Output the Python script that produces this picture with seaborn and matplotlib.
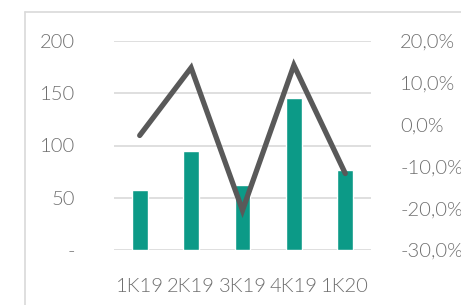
import matplotlib
matplotlib.use("Agg")
import matplotlib.pyplot as plt
from matplotlib.lines import Line2D
from matplotlib.ticker import FuncFormatter
import seaborn as sns
import pandas as pd

categories = ["1K19", "2K19", "3K19", "4K19", "1K20"]
values = [57, 95, 62, 145, 77]
growth = [-2.6, 13.6, -20.5, 14.2, -11.7]
left_ticks = [0, 50, 100, 150, 200]
right_ticks = [-30, -20, -10, 0, 10, 20]

sns.set_theme(style="white")
plt.rcParams["font.family"] = ["Lato", "DejaVu Sans"]
plt.rcParams["font.weight"] = 300

df = pd.DataFrame({"cat": categories, "val": values, "g": growth})

fig = plt.figure(figsize=(4.61, 3.05), dpi=100)
ax = fig.add_axes([114/461, 1-250/305, (371-114)/461, (250-41)/305])

sns.barplot(data=df, x="cat", y="val", color="#0C9A87", saturation=1, width=0.31, ax=ax, zorder=2)
ax.set_ylim(0, 200)
ax.set_xlim(-0.5, 4.5)
ax.set_yticks(left_ticks)
ax.yaxis.set_major_formatter(FuncFormatter(lambda v, p: "-" if v == 0 else f"{int(v)}"))
ax.grid(axis="y", color="#D9D9D9", linewidth=1.2, zorder=0)
ax.set_axisbelow(True)
ax.set_xlabel("")
ax.set_ylabel("")
for s in ax.spines.values():
    s.set_visible(False)
txtc = "#6F6F6F"
ax.tick_params(axis="y", length=0, pad=28, labelsize=14.5, labelcolor=txtc)
ax.tick_params(axis="x", length=0, pad=20, labelsize=14.5, labelcolor=txtc)

ax2 = ax.twinx()
sns.lineplot(data=df, x="cat", y="g", color="#595959", linewidth=3.8, ax=ax2,
             solid_capstyle="round", solid_joinstyle="miter", zorder=3)
ax2.set_ylim(-30, 20)
ax2.set_yticks(right_ticks)
ax2.yaxis.set_major_formatter(FuncFormatter(lambda v, p: f"{v:.1f}%".replace(".", ",")))
ax2.set_ylabel("")
for s in ax2.spines.values():
    s.set_visible(False)
ax2.tick_params(axis="y", length=0, pad=21, labelsize=14.5, labelcolor=txtc)
ax2.grid(False)

fig.add_artist(Line2D([25/461, 1], [1-12/305, 1-12/305], transform=fig.transFigure, color="#D9D9D9", linewidth=1.2))
fig.add_artist(Line2D([25/461, 25/461], [0, 1-12/305], transform=fig.transFigure, color="#D9D9D9", linewidth=1.2))

fig.savefig("out.png", dpi=100)
